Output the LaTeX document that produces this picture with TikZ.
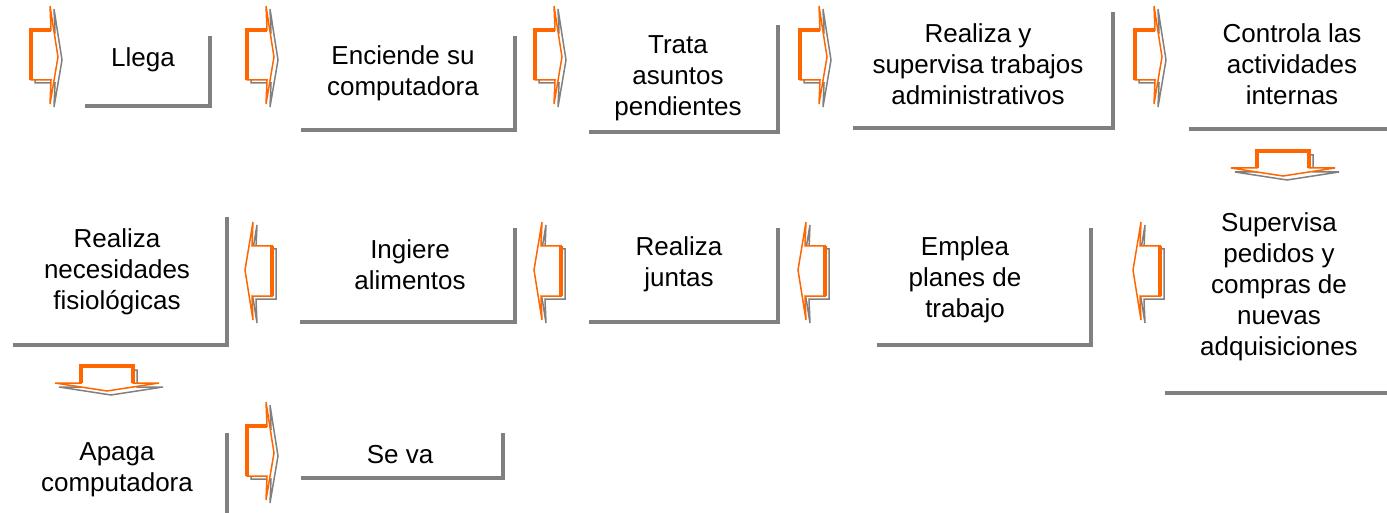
\documentclass[tikz,border=0pt]{standalone}
\usepackage{fontspec}
\setmainfont{Liberation Sans}

\definecolor{arroworange}{HTML}{FF6600}
\definecolor{framegray}{HTML}{808080}

\tikzset{
  steptext/.style={align=center,inner sep=0pt,font=\fontsize{26}{31}\selectfont},
  frameline/.style={framegray,line width=4pt},
  pics/rarrow/.style={code={
    \draw[framegray,line width=1.5pt,shift={(4,3)}] (20,-25)--(19,-49)--(27,2)--(19,49)--(20,25)--(0,25)--(0,-25)--cycle;
    \filldraw[fill=white,draw=arroworange,line width=1.5pt] (20,-25)--(19,-49)--(27,2)--(19,49)--(20,25)--(0,25)--(0,-25)--cycle;
    \draw[arroworange,line width=3.5pt] (20,-25)--(0,-25)--(0,25);
  }},
  pics/larrow/.style={code={
    \draw[framegray,line width=1.5pt,shift={(4,3)}] (-20,-25)--(-19,-49)--(-27,-1)--(-19,49)--(-20,25)--(0,25)--(0,-25)--cycle;
    \filldraw[fill=white,draw=arroworange,line width=1.5pt] (-20,-25)--(-19,-49)--(-27,-1)--(-19,49)--(-20,25)--(0,25)--(0,-25)--cycle;
    \draw[arroworange,line width=3.5pt] (0,-25)--(0,25);
  }},
  pics/darrow/.style={code={
    \draw[framegray,line width=1.5pt,shift={(4,4)}] (-26,0)--(26,0)--(26,17)--(52,17)--(0,25)--(-52,17)--(-26,17)--cycle;
    \filldraw[fill=white,draw=arroworange,line width=1.5pt] (-26,0)--(26,0)--(26,17)--(52,17)--(0,25)--(-52,17)--(-26,17)--cycle;
    \draw[arroworange,line width=3.5pt] (-26,17)--(-26,0)--(26,0)--(26,17);
  }}
}

\begin{document}
\begin{tikzpicture}[x=1pt,y=-1pt]
 \useasboundingbox (0,0) rectangle (1387,513);

 % first row, left to right
 \node[steptext] (llega) at (143,60) {Llega};
 \node[steptext] (enciende) at (403,73) {Enciende su\\computadora};
 \node[steptext] (trata) at (678,78) {Trata\\asuntos\\pendientes};
 \node[steptext] (realiza) at (978,64) {Realiza y\\supervisa trabajos\\administrativos};
 \node[steptext] (controla) at (1292,64) {Controla las\\actividades\\internas};
 \draw[frameline] (85,106) -| (210,36);
 \draw[frameline] (301,130) -| (515,36);
 \draw[frameline] (589,132) -| (778,25);
 \draw[frameline] (853,128) -| (1113,12);
 \draw[frameline] (1189,129) -- (1390,129);
 \pic (r1) at (31,55) {rarrow};
 \pic (r2) at (247,55) {rarrow};
 \pic (r3) at (535,55) {rarrow};
 \pic (r4) at (800,55) {rarrow};
 \pic (r5) at (1135,55) {rarrow};
 \pic (d1) at (1283,151) {darrow};

 % second row, right to left
 \node[steptext] (supervisa) at (1279,287) {Supervisa\\pedidos y\\compras de\\nuevas\\adquisiciones};
 \node[steptext] (emplea) at (965,280) {Emplea\\planes de\\trabajo};
 \node[steptext] (juntas) at (679,264) {Realiza\\juntas};
 \node[steptext] (ingiere) at (410,265) {Ingiere\\alimentos};
 \node[steptext] (necesidades) at (117,272) {Realiza\\necesidades\\fisiológicas};
 \draw[frameline] (1165,393) -- (1390,393);
 \draw[frameline] (877,345) -| (1091,228);
 \draw[frameline] (589,322) -| (778,228);
 \draw[frameline] (300,322) -| (515,228);
 \draw[frameline] (13,345) -| (227,217);
 \pic (l1) at (1160,271) {larrow};
 \pic (l2) at (825,271) {larrow};
 \pic (l3) at (561,271) {larrow};
 \pic (l4) at (272,271) {larrow};
 \pic (d2) at (107,366) {darrow};

 % third row
 \node[steptext] (apaga) at (117,470) {Apaga\\computadora};
 \node[steptext] (seva) at (400,455) {Se va};
 \draw[frameline] (227,433) -- (227,516);
 \draw[frameline] (301,478) -| (503,433);
 \pic (r6) at (247,451) {rarrow};
\end{tikzpicture}
\end{document}
